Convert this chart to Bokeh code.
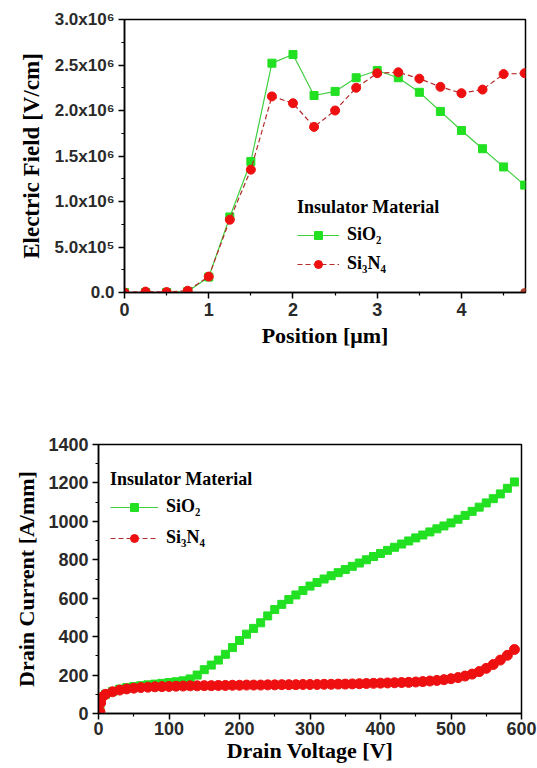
from bokeh.plotting import figure
from bokeh.models import FixedTicker, Legend, LegendItem, Range1d
from bokeh.embed import file_html
from bokeh.resources import INLINE

# ---------------- data: top panel (electric field) ----------------
position_um = [0.0, 0.25, 0.5, 0.75, 1.0, 1.25, 1.5, 1.75, 2.0, 2.25,
               2.5, 2.75, 3.0, 3.25, 3.5, 3.75, 4.0, 4.25, 4.5, 4.75]
field_sio2 = [0.0, 0.0, 0.0, 0.01e6, 0.17e6, 0.83e6, 1.44e6, 2.52e6, 2.615e6, 2.165e6,
              2.21e6, 2.36e6, 2.44e6, 2.36e6, 2.20e6, 1.99e6, 1.78e6, 1.58e6, 1.38e6, 1.18e6]
field_si3n4 = [0.0, 0.01e6, 0.005e6, 0.02e6, 0.175e6, 0.80e6, 1.35e6, 2.155e6, 2.08e6, 1.82e6,
               2.0e6, 2.25e6, 2.41e6, 2.42e6, 2.35e6, 2.26e6, 2.19e6, 2.23e6, 2.40e6, 2.41e6]
field_si3n4_tail_x = [4.75]
field_si3n4_tail_y = [0.0]

pos_ticks = [0, 1, 2, 3, 4]
pos_minor = [0.5, 1.5, 2.5, 3.5, 4.5]
field_ticks = [0, 0.5e6, 1.0e6, 1.5e6, 2.0e6, 2.5e6, 3.0e6]
field_tick_labels = ["0.0", "5.0x10\u2075", "1.0x10\u2076", "1.5x10\u2076",
                     "2.0x10\u2076", "2.5x10\u2076", "3.0x10\u2076"]
field_minor = [0.25e6, 0.75e6, 1.25e6, 1.75e6, 2.25e6, 2.75e6]

# ---------------- data: bottom panel (drain current) ----------------
vd_sio2 = [2, 10, 20, 30, 40, 50, 60, 70, 80, 90, 100, 110, 120, 130, 140, 150, 160, 170, 180, 190,
           200, 210, 220, 230, 240, 250, 260, 270, 280, 290, 300, 310, 320, 330, 340, 350, 360, 370,
           380, 390, 400, 410, 420, 430, 440, 450, 460, 470, 480, 490, 500, 510, 520, 530, 540, 550,
           560, 570, 580, 590]
id_sio2 = [40, 100, 115, 127, 135, 140, 145, 149, 153, 157, 161, 165, 170, 180, 200, 228, 252, 278,
           308, 343, 380, 413, 443, 472, 508, 541, 568, 593, 617, 640, 663, 682, 700, 717, 733, 749,
           766, 783, 800, 817, 833, 849, 865, 882, 898, 914, 929, 945, 961, 976, 992, 1011, 1031,
           1052, 1074, 1096, 1118, 1143, 1172, 1205]
vd_si3n4 = [2, 3, 5, 10, 20, 30, 40, 50, 60, 70, 80, 90, 100, 110, 120, 130, 140, 150, 160, 170, 180,
            190, 200, 210, 220, 230, 240, 250, 260, 270, 280, 290, 300, 310, 320, 330, 340, 350, 360,
            370, 380, 390, 400, 410, 420, 430, 440, 450, 460, 470, 480, 490, 500, 510, 520, 530, 540,
            550, 560, 570, 580, 590]
id_si3n4 = [10, 55, 85, 100, 113, 122, 128, 132, 135, 137, 139, 140, 141, 142, 143, 144, 144, 145,
            145, 146, 146, 147, 147, 148, 148, 148, 149, 149, 150, 150, 150, 151, 151, 151, 152, 152,
            153, 153, 154, 155, 156, 157, 158, 159, 160, 161, 162, 164, 166, 169, 172, 176, 181, 187,
            195, 205, 218, 235, 255, 278, 303, 333]

vd_ticks = [0, 100, 200, 300, 400, 500, 600]
vd_minor = [50, 150, 250, 350, 450, 550]
id_ticks = [0, 200, 400, 600, 800, 1000, 1200, 1400]
id_minor = [100, 300, 500, 700, 900, 1100, 1300]

legend_title = "Insulator Material"
series_names = ["SiO\u2082", "Si\u2083N\u2084"]

SERIF = "Liberation Serif"
SANS = "Liberation Sans"
GREEN_LINE = "#3fcf3f"
GREEN_MARK = "#22e022"
RED_LINE = "#b52a2a"
RED_MARK = "#ee1010"


def style(p, xlabel, ylabel):
    p.outline_line_color = "black"
    p.outline_line_width = 1.5
    p.outline_line_alpha = 1
    p.xgrid.visible = False
    p.ygrid.visible = False
    for ax in (p.xaxis[0], p.yaxis[0]):
        ax.axis_line_width = 1.5
        ax.axis_line_color = "black"
        ax.major_tick_out = 6
        ax.major_tick_in = 0
        ax.minor_tick_out = 3
        ax.minor_tick_in = 0
        ax.major_tick_line_width = 1.5
        ax.minor_tick_line_width = 1.2
        ax.major_label_text_font = SANS
        ax.major_label_text_font_style = "bold"
        ax.major_label_text_font_size = "18px"
        ax.major_label_text_color = "#2a2a2a"
        ax.axis_label_text_font = SERIF
        ax.axis_label_text_font_style = "bold"
        ax.axis_label_text_font_size = "22px"
        ax.axis_label_text_color = "black"
    p.xaxis[0].axis_label = xlabel
    p.yaxis[0].axis_label = ylabel


def style_legend(lg, gw, spacing):
    lg.border_line_alpha = 0
    lg.background_fill_alpha = 0
    lg.glyph_width = gw
    lg.glyph_height = 20
    lg.label_standoff = 8
    lg.spacing = spacing
    lg.padding = 4
    lg.margin = 0
    lg.title_standoff = 6
    lg.label_text_font = SERIF
    lg.label_text_font_style = "bold"
    lg.label_text_font_size = "18px"
    lg.label_text_color = "black"
    lg.title_text_font = SERIF
    lg.title_text_font_style = "bold"
    lg.title_text_font_size = "18px"
    lg.title_text_color = "black"


# ---------------- top figure ----------------
p1 = figure(width=537, height=392, output_backend="svg", toolbar_location=None,
            x_range=Range1d(0, 4.76), y_range=Range1d(0, 3.0e6),
            min_border_left=124, min_border_right=12, min_border_top=19, min_border_bottom=100)
style(p1, "Position [\u03bcm]", "Electric Field [V/cm]")
p1.yaxis[0].axis_label_text_font_size = "23px"
p1.yaxis[0].major_label_text_font_size = "17px"
p1.xaxis[0].ticker = FixedTicker(ticks=pos_ticks, minor_ticks=pos_minor)
p1.yaxis[0].ticker = FixedTicker(ticks=field_ticks, minor_ticks=field_minor)
p1.yaxis[0].major_label_overrides = {float(t): s for t, s in zip(field_ticks, field_tick_labels)}
p1.xaxis[0].major_label_standoff = 4
p1.xaxis[0].axis_label_standoff = 4
p1.yaxis[0].major_label_standoff = 4
p1.yaxis[0].axis_label_standoff = 8

l1a = p1.line(position_um, field_sio2, line_color=GREEN_LINE, line_width=1.2)
s1a = p1.scatter(position_um, field_sio2, marker="square", size=8, fill_color=GREEN_MARK,
                 line_color=GREEN_MARK)
l1b = p1.line(position_um, field_si3n4, line_color=RED_LINE, line_width=1.2, line_dash="5 3")
s1b = p1.scatter(position_um, field_si3n4, marker="circle", size=9, fill_color=RED_MARK,
                 line_color=RED_MARK)
p1.scatter(field_si3n4_tail_x, field_si3n4_tail_y, marker="circle", size=8,
           fill_color="#b5402a", line_color="#b5402a")

leg1 = Legend(items=[LegendItem(label=series_names[0], renderers=[l1a, s1a]),
                     LegendItem(label=series_names[1], renderers=[l1b, s1b])],
              title=legend_title, location=(169, 14))
style_legend(leg1, 42, 8)
p1.add_layout(leg1)

# ---------------- bottom figure ----------------
p2 = figure(width=537, height=376, output_backend="svg", toolbar_location=None,
            x_range=Range1d(0, 600), y_range=Range1d(0, 1400),
            min_border_left=98, min_border_right=16, min_border_top=52, min_border_bottom=55)
style(p2, "Drain Voltage [V]", "Drain Current [A/mm]")
p2.xaxis[0].ticker = FixedTicker(ticks=vd_ticks, minor_ticks=vd_minor)
p2.yaxis[0].ticker = FixedTicker(ticks=id_ticks, minor_ticks=id_minor)
p2.xaxis[0].major_label_standoff = 2
p2.xaxis[0].axis_label_standoff = 0
p2.yaxis[0].major_label_standoff = 4
p2.yaxis[0].axis_label_standoff = 6

l2a = p2.line(vd_sio2, id_sio2, line_color=GREEN_LINE, line_width=1.2)
s2a = p2.scatter(vd_sio2, id_sio2, marker="square", size=8, fill_color=GREEN_MARK,
                 line_color=GREEN_MARK)
l2b = p2.line(vd_si3n4, id_si3n4, line_color=RED_LINE, line_width=1.2, line_dash="5 3")
s2b = p2.scatter(vd_si3n4, id_si3n4, marker="circle", size=10, fill_color=RED_MARK,
                 line_color=RED_MARK)

leg2 = Legend(items=[LegendItem(label=series_names[0], renderers=[l2a, s2a]),
                     LegendItem(label=series_names[1], renderers=[l2b, s2b])],
              title=legend_title, location=(8, 161))
style_legend(leg2, 48, 10)
p2.add_layout(leg2)

open("out.html", "w").write(file_html([p1, p2], INLINE))
